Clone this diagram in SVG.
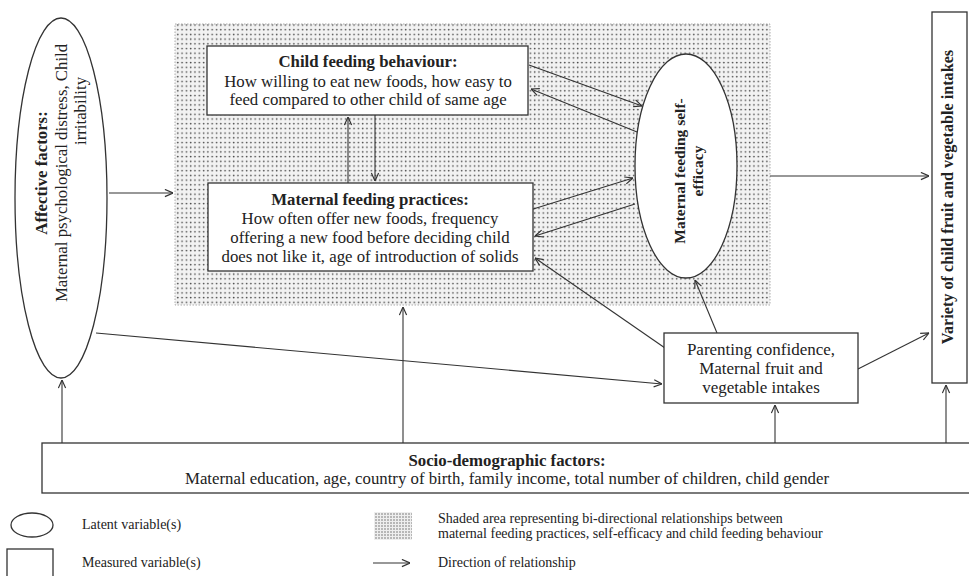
<svg xmlns="http://www.w3.org/2000/svg" width="969" height="576" viewBox="0 0 969 576">
<style>
  .t { font-family: "Liberation Serif", "Times New Roman", serif; fill: #222; }
  .m { font-size: 16.8px; text-anchor: middle; }
  .b { font-weight: bold; }
  .lg { font-size: 14px; }
  .box { fill: #fff; stroke: #333; stroke-width: 1.3; }
  .con line { stroke: #333; stroke-width: 1.1; marker-end: url(#arr); }
</style>
<defs>
  <pattern id="dots" width="4.3" height="4.7" patternUnits="userSpaceOnUse">
    <rect width="4.3" height="4.7" fill="#f2f2f2"/>
    <circle cx="1.5" cy="1.5" r="0.85" fill="#4a4a4a"/>
  </pattern>
  <pattern id="dots2" width="3" height="3" patternUnits="userSpaceOnUse">
    <rect width="3" height="3" fill="#eee"/>
    <circle cx="1" cy="1" r="0.7" fill="#555"/>
  </pattern>
  <marker id="arr" viewBox="0 0 10 10" refX="10" refY="5" markerWidth="9" markerHeight="9" markerUnits="userSpaceOnUse" orient="auto">
    <path d="M1,1 L10,5 L1,9" fill="none" stroke="#333" stroke-width="1.3"/>
  </marker>
</defs>
<rect width="969" height="576" fill="#fff"/>

<g id="shaded-area">
  <rect x="175" y="24" width="595" height="281" fill="url(#dots)" stroke="#999" stroke-width="0.8" stroke-dasharray="1.5 1.5"/>
</g>

<g id="connectors" class="con">
  <line x1="109" y1="193" x2="173" y2="193"/>
  <line x1="529" y1="65" x2="642" y2="106"/>
  <line x1="637" y1="132" x2="531" y2="89"/>
  <line x1="530" y1="210" x2="633" y2="178"/>
  <line x1="635" y1="204" x2="535" y2="236"/>
  <line x1="348" y1="183" x2="348" y2="117"/>
  <line x1="375" y1="115" x2="375" y2="181"/>
  <line x1="665" y1="348" x2="535" y2="258"/>
  <line x1="717" y1="333" x2="695" y2="280"/>
  <line x1="770" y1="176" x2="929" y2="176"/>
  <line x1="858" y1="369" x2="929" y2="333"/>
  <line x1="96" y1="333" x2="662" y2="384"/>
  <line x1="62" y1="443" x2="62" y2="380"/>
  <line x1="403" y1="443" x2="403" y2="307"/>
  <line x1="775" y1="443" x2="775" y2="405"/>
  <line x1="946" y1="443" x2="946" y2="385"/>
</g>

<g id="affective">
  <ellipse class="box" cx="61" cy="198" rx="46" ry="180"/>
  <text class="t m b" transform="translate(47,173) rotate(-90)">Affective factors:</text>
  <text class="t m" transform="translate(67,173) rotate(-90)">Maternal psychological distress, Child</text>
  <text class="t m" transform="translate(86,111) rotate(-90)">irritability</text>
</g>

<g id="child-feeding">
  <rect class="box" x="207" y="46" width="321" height="69"/>
  <text class="t m b" x="368" y="67">Child feeding behaviour:</text>
  <text class="t m" x="368" y="87">How willing to eat new foods, how easy to</text>
  <text class="t m" x="368" y="105">feed compared to other child of same age</text>
</g>

<g id="maternal-practices">
  <rect class="box" x="208" y="183" width="325" height="88"/>
  <text class="t m b" x="370" y="205">Maternal feeding practices:</text>
  <text class="t m" x="370" y="224">How often offer new foods, frequency</text>
  <text class="t m" x="370" y="243">offering a new food before deciding child</text>
  <text class="t m" x="370" y="262">does not like it, age of introduction of solids</text>
</g>

<g id="self-efficacy">
  <ellipse class="box" cx="686" cy="166" rx="51" ry="112"/>
  <text class="t b" font-size="15.5" text-anchor="middle" transform="translate(685,171) rotate(-90)">Maternal feeding self-</text>
  <text class="t b" font-size="15.5" text-anchor="middle" transform="translate(703,171) rotate(-90)">efficacy</text>
</g>

<g id="parenting">
  <rect class="box" x="664" y="333" width="194" height="70"/>
  <text class="t" font-size="17" text-anchor="middle" x="761" y="355">Parenting confidence,</text>
  <text class="t" font-size="17" text-anchor="middle" x="761" y="374">Maternal fruit and</text>
  <text class="t" font-size="17" text-anchor="middle" x="761" y="393">vegetable intakes</text>
</g>

<g id="variety">
  <rect class="box" x="932" y="12" width="35" height="371"/>
  <text class="t b" font-size="16.2" text-anchor="middle" transform="translate(953,197) rotate(-90)">Variety of child fruit and vegetable intakes</text>
</g>

<g id="socio">
  <rect class="box" x="42" y="443" width="940" height="50"/>
  <text class="t m b" x="507" y="466">Socio-demographic factors:</text>
  <text class="t m" x="507" y="484">Maternal education, age, country of birth, family income, total number of children, child gender</text>
</g>

<g id="legend">
  <ellipse class="box" cx="32" cy="525" rx="21" ry="12"/>
  <text class="t lg" x="82" y="529">Latent variable(s)</text>
  <rect class="box" x="7" y="549" width="46" height="32"/>
  <text class="t lg" x="82" y="567">Measured variable(s)</text>
  <rect x="374" y="512" width="38" height="28" fill="url(#dots2)"/>
  <text class="t lg" x="438" y="523">Shaded area representing bi-directional relationships between</text>
  <text class="t lg" x="438" y="538">maternal feeding practices, self-efficacy and child feeding behaviour</text>
  <line x1="373" y1="563" x2="410" y2="563" stroke="#333" stroke-width="1.1" marker-end="url(#arr)"/>
  <text class="t lg" x="438" y="567">Direction of relationship</text>
</g>
</svg>
